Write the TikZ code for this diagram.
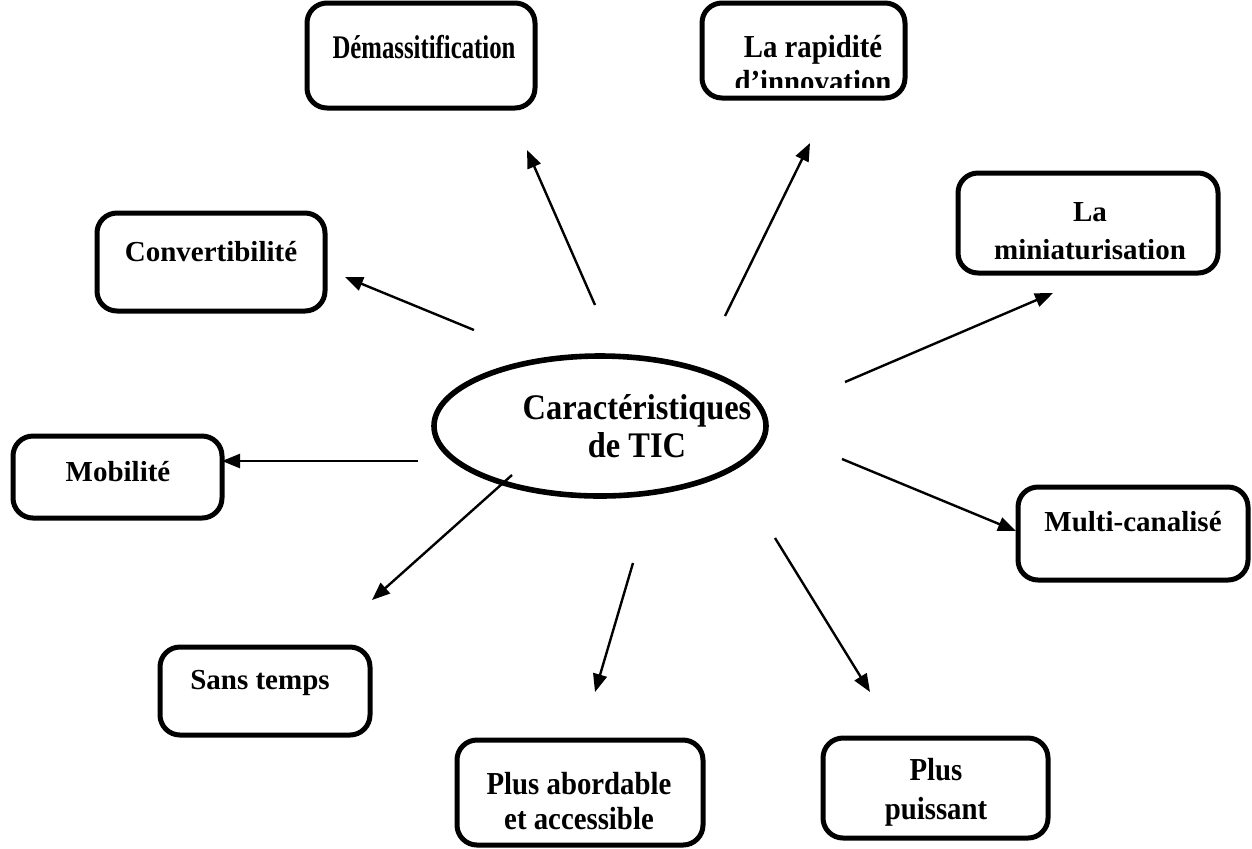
\documentclass[tikz,border=0pt]{standalone}
\usepackage{fontspec}
\setmainfont{Liberation Serif}
\newfontfamily\serifnarrow{Liberation Serif}[FakeStretch=0.75]
\newfontfamily\serifsemi{Liberation Serif}[FakeStretch=0.9]
\usetikzlibrary{arrows.meta,shapes.geometric}
\begin{document}
\begin{tikzpicture}[x=0.5pt,y=-0.5pt,
  box/.style={draw,line width=2.5pt,rounded corners=10pt,inner sep=0pt},
  oval/.style={draw,ellipse,line width=2.8pt,inner sep=0pt},
  lbl/.style={font=\bfseries\fontsize{14.5}{19}\selectfont,align=center,inner sep=0pt},
  tall/.style={font=\serifsemi\bfseries\fontsize{16}{17.5}\selectfont,align=center,inner sep=0pt},
  biglbl/.style={font=\serifsemi\bfseries\fontsize{18}{19}\selectfont,align=center,inner sep=0pt},
  arr/.style={line width=1.2pt,-{Triangle[length=9pt,width=7pt]}}]
\useasboundingbox (0,0) rectangle (1252,848);

% central ellipse
\node[oval,minimum width=166pt,minimum height=70pt] (tic) at (600,426) {};
\node[biglbl] (tictxt) at (637,426) {Caractéristiques\\de TIC};

% surrounding boxes
\node[box,minimum width=114pt,minimum height=52.5pt] (dem) at (421,55.5) {};
\node[lbl,font=\serifnarrow\bfseries\fontsize{16.5}{19}\selectfont] (demtxt) at (424,47) {Démassitification};

\node[box,minimum width=101.5pt,minimum height=47.5pt] (rap) at (803.5,50.5) {};
\begin{scope}
  \clip (705,6) rectangle (902,87);
  \node[tall] (raptxt) at (813,64) {La rapidité\\d’innovation};
\end{scope}

\node[box,minimum width=114pt,minimum height=49pt] (conv) at (211,262) {};
\node[lbl] (convtxt) at (211,252) {Convertibilité};

\node[box,minimum width=130pt,minimum height=50pt] (mini) at (1088,223) {};
\node[lbl] (minitxt) at (1090,231) {La\\miniaturisation};

\node[box,minimum width=104.5pt,minimum height=41pt] (mob) at (117.5,477) {};
\node[lbl] (mobtxt) at (118,472) {Mobilité};

\node[box,minimum width=115pt,minimum height=46.5pt] (multi) at (1133,533.5) {};
\node[lbl] (multitxt) at (1133,522) {Multi-canalisé};

\node[box,minimum width=105pt,minimum height=44pt] (sans) at (265,691) {};
\node[lbl] (sanstxt) at (260,683) {Sans temps};

\node[box,minimum width=123pt,minimum height=52.5pt] (abord) at (580,792.5) {};
\node[tall] (abordtxt) at (579,801) {Plus abordable\\et accessible};

\node[box,minimum width=112.5pt,minimum height=50pt] (puis) at (935.5,788) {};
\node[tall,font=\serifsemi\bfseries\fontsize{16}{19.5}\selectfont] (puistxt) at (936,792) {Plus\\puissant};

% arrow end points
\coordinate (a1) at (595,305);  \coordinate (b1) at (527,150);
\coordinate (a2) at (725,316);  \coordinate (b2) at (810,143);
\coordinate (a3) at (474,330);  \coordinate (b3) at (345,277);
\coordinate (a4) at (845,382);  \coordinate (b4) at (1053,293);
\coordinate (a5) at (418,461);  \coordinate (b5) at (222,461);
\coordinate (a6) at (842,459);  \coordinate (b6) at (1016,531);
\coordinate (a7) at (512,475);  \coordinate (b7) at (372,600);
\coordinate (a8) at (633,563);  \coordinate (b8) at (595,692);
\coordinate (a9) at (775,538);  \coordinate (b9) at (870,692);

\foreach \i in {1,...,9} \draw[arr] (a\i) -- (b\i);
\end{tikzpicture}
\end{document}
